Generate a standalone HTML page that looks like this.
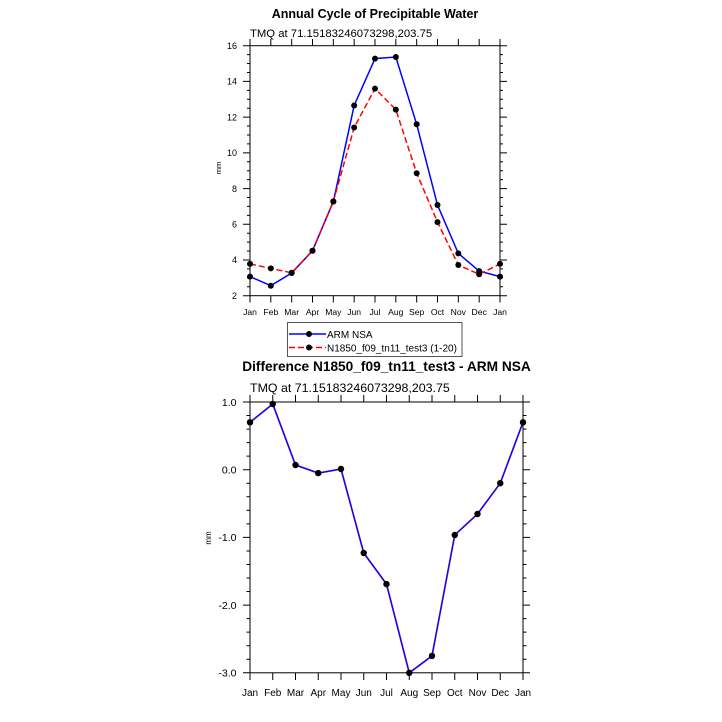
<!DOCTYPE html>
<html><head><meta charset="utf-8"><style>
html,body{margin:0;padding:0;background:#fff;}
svg{display:block;font-family:"Liberation Sans",Arial,sans-serif;}
</style></head><body>
<svg width="722" height="722" viewBox="0 0 722 722" xmlns="http://www.w3.org/2000/svg">
<rect width="722" height="722" fill="#fff"/>

<!-- ===== TOP PLOT ===== -->
<text x="375" y="18" font-size="12.5" font-weight="bold" text-anchor="middle" fill="#000">Annual Cycle of Precipitable Water</text>
<text x="250" y="37" font-size="11.3" fill="#000">TMQ at 71.15183246073298,203.75</text>

<rect x="250" y="45.7" width="250" height="250" fill="none" stroke="#000" stroke-width="1"/>
<path stroke="#000" stroke-width="1" fill="none" d="
M243 295.7H250 M243 260H250 M243 224.3H250 M243 188.6H250 M243 152.9H250 M243 117.1H250 M243 81.4H250 M243 45.7H250
M500 295.7H507 M500 260H507 M500 224.3H507 M500 188.6H507 M500 152.9H507 M500 117.1H507 M500 81.4H507 M500 45.7H507
M250 45.7V39 M270.83 45.7V39 M291.67 45.7V39 M312.5 45.7V39 M333.33 45.7V39 M354.17 45.7V39 M375 45.7V39 M395.83 45.7V39 M416.67 45.7V39 M437.5 45.7V39 M458.33 45.7V39 M479.17 45.7V39 M500 45.7V39
M250 295.7V302.5 M270.83 295.7V302.5 M291.67 295.7V302.5 M312.5 295.7V302.5 M333.33 295.7V302.5 M354.17 295.7V302.5 M375 295.7V302.5 M395.83 295.7V302.5 M416.67 295.7V302.5 M437.5 295.7V302.5 M458.33 295.7V302.5 M479.17 295.7V302.5 M500 295.7V302.5
"/>
<path stroke="#000" stroke-width="1" fill="none" d="
M247 286.77H250 M247 277.84H250 M247 268.91H250 M247 251.05H250 M247 242.12H250 M247 233.2H250 M247 215.34H250 M247 206.41H250 M247 197.48H250 M247 179.62H250 M247 170.7H250 M247 161.77H250 M247 143.91H250 M247 134.98H250 M247 126.05H250 M247 108.2H250 M247 99.27H250 M247 90.34H250 M247 72.48H250 M247 63.55H250 M247 54.62H250
M500 286.77H503 M500 277.84H503 M500 268.91H503 M500 251.05H503 M500 242.12H503 M500 233.2H503 M500 215.34H503 M500 206.41H503 M500 197.48H503 M500 179.62H503 M500 170.7H503 M500 161.77H503 M500 143.91H503 M500 134.98H503 M500 126.05H503 M500 108.2H503 M500 99.27H503 M500 90.34H503 M500 72.48H503 M500 63.55H503 M500 54.62H503
"/>
<g font-size="9" text-anchor="end" fill="#000">
<text x="237" y="298.9">2</text>
<text x="237" y="263.2">4</text>
<text x="237" y="227.5">6</text>
<text x="237" y="191.8">8</text>
<text x="237" y="156.1">10</text>
<text x="237" y="120.3">12</text>
<text x="237" y="84.6">14</text>
<text x="237" y="48.9">16</text>
</g>
<text transform="translate(221,168) rotate(-90)" font-size="7.5" text-anchor="middle" fill="#000">mm</text>
<g font-size="8.6" text-anchor="middle" fill="#000">
<text x="250" y="314.8">Jan</text>
<text x="270.83" y="314.8">Feb</text>
<text x="291.67" y="314.8">Mar</text>
<text x="312.5" y="314.8">Apr</text>
<text x="333.33" y="314.8">May</text>
<text x="354.17" y="314.8">Jun</text>
<text x="375" y="314.8">Jul</text>
<text x="395.83" y="314.8">Aug</text>
<text x="416.67" y="314.8">Sep</text>
<text x="437.5" y="314.8">Oct</text>
<text x="458.33" y="314.8">Nov</text>
<text x="479.17" y="314.8">Dec</text>
<text x="500" y="314.8">Jan</text>
</g>

<polyline fill="none" stroke="#0000ff" stroke-width="1.5" points="250,276.6 270.83,285.7 291.67,273 312.5,250.7 333.33,201.6 354.17,105.5 375,58.6 395.83,57 416.67,124.3 437.5,205 458.33,253.4 479.17,271.1 500,276.6"/>
<polyline fill="none" stroke="#ff0000" stroke-width="1.5" stroke-dasharray="6,3" points="250,263.9 270.83,268.4 291.67,272.8 312.5,250.7 333.33,201.4 354.17,127.5 375,88.6 395.83,109.6 416.67,173.2 437.5,222.1 458.33,265 479.17,274.3 500,263.9"/>
<g fill="#000">
<circle cx="250" cy="276.6" r="3"/><circle cx="270.83" cy="285.7" r="3"/><circle cx="291.67" cy="273" r="3"/><circle cx="312.5" cy="250.7" r="3"/><circle cx="333.33" cy="201.6" r="3"/><circle cx="354.17" cy="105.5" r="3"/><circle cx="375" cy="58.6" r="3"/><circle cx="395.83" cy="57" r="3"/><circle cx="416.67" cy="124.3" r="3"/><circle cx="437.5" cy="205" r="3"/><circle cx="458.33" cy="253.4" r="3"/><circle cx="479.17" cy="271.1" r="3"/><circle cx="500" cy="276.6" r="3"/>
<circle cx="250" cy="263.9" r="3"/><circle cx="270.83" cy="268.4" r="3"/><circle cx="291.67" cy="272.8" r="3"/><circle cx="312.5" cy="250.7" r="3"/><circle cx="333.33" cy="201.4" r="3"/><circle cx="354.17" cy="127.5" r="3"/><circle cx="375" cy="88.6" r="3"/><circle cx="395.83" cy="109.6" r="3"/><circle cx="416.67" cy="173.2" r="3"/><circle cx="437.5" cy="222.1" r="3"/><circle cx="458.33" cy="265" r="3"/><circle cx="479.17" cy="274.3" r="3"/><circle cx="500" cy="263.9" r="3"/>
</g>

<!-- legend -->
<rect x="287.5" y="322.5" width="174.5" height="34" fill="#fff" stroke="#555" stroke-width="1"/>
<line x1="289" y1="334" x2="326" y2="334" stroke="#0000ff" stroke-width="1.5"/>
<circle cx="309" cy="334" r="3" fill="#000"/>
<line x1="289" y1="347.5" x2="326" y2="347.5" stroke="#ff0000" stroke-width="1.5" stroke-dasharray="6,3"/>
<circle cx="309" cy="347.5" r="3" fill="#000"/>
<text x="327" y="338" font-size="10" fill="#000">ARM NSA</text>
<text x="327" y="351.5" font-size="10" fill="#000">N1850_f09_tn11_test3 (1-20)</text>

<!-- ===== BOTTOM PLOT ===== -->
<text x="386.5" y="371" font-size="13.7" font-weight="bold" text-anchor="middle" fill="#000">Difference N1850_f09_tn11_test3 - ARM NSA</text>
<text x="250" y="392" font-size="12.4" fill="#000">TMQ at 71.15183246073298,203.75</text>

<rect x="250" y="402" width="273" height="270.8" fill="none" stroke="#000" stroke-width="1"/>
<path stroke="#000" stroke-width="1" fill="none" d="
M243 402H250 M243 469.7H250 M243 537.4H250 M243 605.1H250 M243 672.8H250
M523 402H530 M523 469.7H530 M523 537.4H530 M523 605.1H530 M523 672.8H530
M250 402V395 M272.75 402V395 M295.5 402V395 M318.25 402V395 M341 402V395 M363.75 402V395 M386.5 402V395 M409.25 402V395 M432 402V395 M454.75 402V395 M477.5 402V395 M500.25 402V395 M523 402V395
M250 672.8V680 M272.75 672.8V680 M295.5 672.8V680 M318.25 672.8V680 M341 672.8V680 M363.75 672.8V680 M386.5 672.8V680 M409.25 672.8V680 M432 672.8V680 M454.75 672.8V680 M477.5 672.8V680 M500.25 672.8V680 M523 672.8V680
"/>
<path stroke="#000" stroke-width="1" fill="none" d="
M246.5 659.26H250 M246.5 645.72H250 M246.5 632.18H250 M246.5 618.64H250 M246.5 591.56H250 M246.5 578.02H250 M246.5 564.48H250 M246.5 550.94H250 M246.5 523.86H250 M246.5 510.32H250 M246.5 496.78H250 M246.5 483.24H250 M246.5 456.16H250 M246.5 442.62H250 M246.5 429.08H250 M246.5 415.54H250
M523 659.26H526.5 M523 645.72H526.5 M523 632.18H526.5 M523 618.64H526.5 M523 591.56H526.5 M523 578.02H526.5 M523 564.48H526.5 M523 550.94H526.5 M523 523.86H526.5 M523 510.32H526.5 M523 496.78H526.5 M523 483.24H526.5 M523 456.16H526.5 M523 442.62H526.5 M523 429.08H526.5 M523 415.54H526.5
"/>
<g font-size="10.5" text-anchor="end" fill="#000">
<text x="236.5" y="405.8">1.0</text>
<text x="236.5" y="473.5">0.0</text>
<text x="236.5" y="541.2">-1.0</text>
<text x="236.5" y="608.9">-2.0</text>
<text x="236.5" y="676.6">-3.0</text>
</g>
<text transform="translate(211,538) rotate(-90)" font-size="8" text-anchor="middle" fill="#000">mm</text>
<g font-size="10" text-anchor="middle" fill="#000">
<text x="250" y="696">Jan</text>
<text x="272.75" y="696">Feb</text>
<text x="295.5" y="696">Mar</text>
<text x="318.25" y="696">Apr</text>
<text x="341" y="696">May</text>
<text x="363.75" y="696">Jun</text>
<text x="386.5" y="696">Jul</text>
<text x="409.25" y="696">Aug</text>
<text x="432" y="696">Sep</text>
<text x="454.75" y="696">Oct</text>
<text x="477.5" y="696">Nov</text>
<text x="500.25" y="696">Dec</text>
<text x="523" y="696">Jan</text>
</g>
<polyline fill="none" stroke="#ff0000" stroke-width="2" stroke-opacity="0.35" points="250,422.3 272.75,404 295.5,465 318.25,473.1 341,469 363.75,553 386.5,584.1 409.25,672.8 432,655.9 454.75,535 477.5,514 500.25,483.2 523,422.3"/>
<polyline fill="none" stroke="#1a00f0" stroke-width="1.5" points="250,422.3 272.75,404 295.5,465 318.25,473.1 341,469 363.75,553 386.5,584.1 409.25,672.8 432,655.9 454.75,535 477.5,514 500.25,483.2 523,422.3"/>
<g fill="#000">
<circle cx="250" cy="422.3" r="3.2"/><circle cx="272.75" cy="404" r="3.2"/><circle cx="295.5" cy="465" r="3.2"/><circle cx="318.25" cy="473.1" r="3.2"/><circle cx="341" cy="469" r="3.2"/><circle cx="363.75" cy="553" r="3.2"/><circle cx="386.5" cy="584.1" r="3.2"/><circle cx="409.25" cy="672.8" r="3.2"/><circle cx="432" cy="655.9" r="3.2"/><circle cx="454.75" cy="535" r="3.2"/><circle cx="477.5" cy="514" r="3.2"/><circle cx="500.25" cy="483.2" r="3.2"/><circle cx="523" cy="422.3" r="3.2"/>
</g>
</svg>
</body></html>
